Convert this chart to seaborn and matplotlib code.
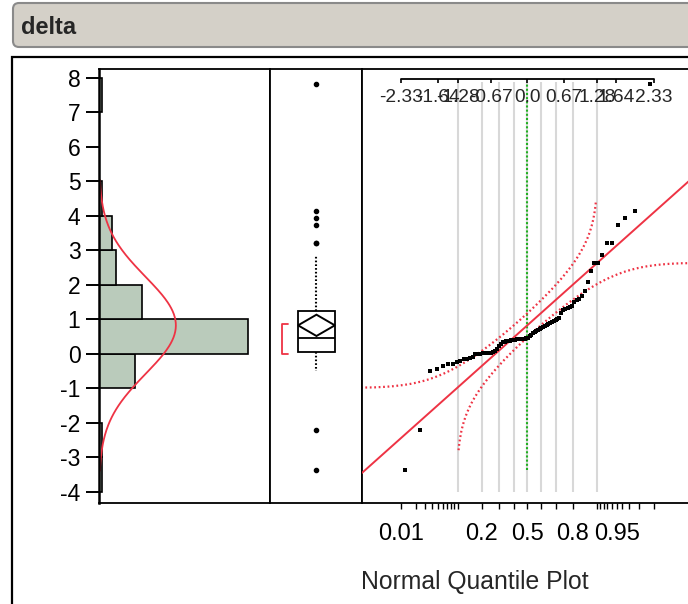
import numpy as np
import matplotlib
matplotlib.use("Agg")
import matplotlib.pyplot as plt
import seaborn as sns
from matplotlib.transforms import IdentityTransform
from matplotlib.patches import FancyBboxPatch, Rectangle, Polygon
from statistics import NormalDist

# ---------------- data ----------------
delta = [
    -3.37, -2.20,
    -0.48, -0.45, -0.36, -0.30, -0.29, -0.24, -0.20, -0.16, -0.14, -0.12, -0.08,
    0.00, 0.01, 0.01, 0.02, 0.02, 0.03, 0.03, 0.04, 0.05, 0.08, 0.14, 0.22,
    0.30, 0.34, 0.36, 0.37, 0.38, 0.39, 0.40, 0.40, 0.41, 0.42, 0.42, 0.43, 0.43,
    0.44, 0.44, 0.45, 0.46,
    0.52, 0.56, 0.60, 0.64, 0.67, 0.70, 0.72, 0.74, 0.77, 0.80, 0.83, 0.86,
    0.89, 0.92, 0.95, 0.98,
    1.00, 1.04, 1.18, 1.26, 1.30, 1.34, 1.36, 1.40, 1.50, 1.55, 1.60, 1.68, 1.82,
    2.10, 2.40, 2.64, 2.64, 2.88,
    3.22, 3.22, 3.75, 3.93,
    4.15, 7.83,
]
title_text = "delta"
hist_bin_edges = list(range(-4, 9))
y_tick_values = list(range(-4, 9))
top_quantile_labels = ["-2.33", "-1.64", "-1.28", "-0.67", "0.0", "0.67", "1.28", "1.64", "2.33"]
prob_ticks = [0.01, 0.02, 0.03, 0.04, 0.05, 0.06, 0.07, 0.08, 0.09, 0.10,
              0.2, 0.3, 0.4, 0.5, 0.6, 0.7, 0.8,
              0.90, 0.91, 0.92, 0.93, 0.94, 0.95, 0.96, 0.97, 0.98, 0.99]
prob_labels = ["0.01", "0.2", "0.5", "0.8", "0.95"]
grid_probs = [0.1, 0.2, 0.3, 0.4, 0.5, 0.6, 0.7, 0.8, 0.9]
qq_label = "Normal Quantile Plot"
t_crit = 1.99

# ---------------- style ----------------
sns.set_style("white")
plt.rcParams["font.family"] = ["Liberation Sans", "DejaVu Sans"]
RED = "#ee3344"
GREEN = "#22b022"
BAR = "#bacbbb"
W, H = 688, 604

vals = np.array(sorted(delta))
n = len(vals)
mean = vals.mean()
sd = vals.std(ddof=1)
nd = NormalDist()

fig = plt.figure(figsize=(W / 100, H / 100), dpi=100)


def ax_at(x0, x1, y0, y1):
    return fig.add_axes([x0 / W, 1 - y1 / H, (x1 - x0) / W, (y1 - y0) / H])


ax_h = ax_at(99, 270, 69, 503)
ax_b = ax_at(270, 362, 69, 503)
ax_q = ax_at(362, 730, 69, 503)
YLIM = (-4.32, 8.26)

for ax in (ax_h, ax_b, ax_q):
    ax.set_facecolor("white")
    for sp in ax.spines.values():
        sp.set_visible(True)
        sp.set_color("black")
        sp.set_linewidth(1.3)

# ---------------- histogram ----------------
sns.histplot(y=vals, bins=hist_bin_edges, ax=ax_h, color=BAR, edgecolor="black",
             linewidth=1.2, alpha=1)
yy = np.linspace(mean - 3 * sd, mean + 3 * sd, 300)
xx = n * 1.0 * np.exp(-0.5 * ((yy - mean) / sd) ** 2) / (sd * np.sqrt(2 * np.pi))
ax_h.plot(xx, yy, color=RED, lw=1.3)
ax_h.set_xlim(0, 51.8)
ax_h.set_ylim(*YLIM)
ax_h.set_xticks([])
ax_h.set_yticks(y_tick_values)
ax_h.set_yticklabels([str(v) for v in y_tick_values])
ax_h.tick_params(axis="y", direction="out", length=9.4, width=1.4, pad=4,
                 labelsize=16.5, left=True, colors="black")
ax_h.set_xlabel("")
ax_h.set_ylabel("")
ax_h.spines["left"].set_linewidth(1.8)

# ---------------- box plot ----------------
sns.boxplot(y=vals, ax=ax_b, width=0.4, color="white", linecolor="black",
            linewidth=1.3, whis=1.5, showcaps=False,
            whiskerprops=dict(linestyle=(0, (0.8, 1.0)), linewidth=1.5),
            flierprops=dict(marker="o", markerfacecolor="black",
                            markeredgecolor="black", markersize=3.0),
            medianprops=dict(color="black", linewidth=1.3))
ax_b.set_xlim(-0.505, 0.495)
ax_b.set_ylim(*YLIM)
ax_b.set_xticks([])
ax_b.set_yticks([])
ax_b.set_xlabel("")
ax_b.set_ylabel("")
ci = t_crit * sd / np.sqrt(n)
ax_b.add_patch(Polygon([[0, mean + ci], [0.2, mean], [0, mean - ci], [-0.2, mean]],
                       closed=True, fill=False, edgecolor="black", lw=1.4, zorder=5))
k = n // 2
widths = vals[k - 1:] - vals[:n - k + 1]
i0 = int(np.argmin(widths))
lo, hi = vals[i0], vals[i0 + k - 1]
ax_b.plot([-0.31, -0.375, -0.375, -0.31], [hi, hi, lo, lo], color=RED, lw=1.3)

# ---------------- normal quantile plot ----------------
zs = np.array([nd.inv_cdf(i / (n + 1)) for i in range(1, n + 1)])
XL = (-3.044, 3.733)
ax_q.set_xlim(*XL)
ax_q.set_ylim(*YLIM)
xt = ax_q.get_xaxis_transform()
ax_q.vlines([nd.inv_cdf(p) for p in grid_probs], 0.026, 0.971, transform=xt,
            colors="#d8d8d8", lw=1.5, zorder=0)
ax_q.vlines(0, vals.min(), vals.max(), colors=GREEN, linestyles=(0, (1, 1)), lw=1.5, zorder=1)

d = 0.886 / np.sqrt(n)
pu = np.linspace(1e-4, 1 - d - 0.005, 400)
ax_q.plot([nd.inv_cdf(p) for p in pu], [mean + sd * nd.inv_cdf(p + d) for p in pu],
          color=RED, lw=1.6, linestyle=(0, (0.8, 1.2)), zorder=2)
pl = np.linspace(d + 0.005, 1 - 1e-4, 400)
ax_q.plot([nd.inv_cdf(p) for p in pl], [mean + sd * nd.inv_cdf(p - d) for p in pl],
          color=RED, lw=1.6, linestyle=(0, (0.8, 1.2)), zorder=2)
sns.lineplot(x=list(XL), y=[mean + sd * XL[0], mean + sd * XL[1]], ax=ax_q,
             color=RED, lw=1.4, zorder=3)
sns.scatterplot(x=zs, y=vals, ax=ax_q, color="black", marker="s", s=11,
                linewidth=0, zorder=6)
ax_q.set_xlim(*XL)
ax_q.set_ylim(*YLIM)
ax_q.set_xlabel("")
ax_q.set_ylabel("")
ax_q.set_yticks([])
ax_q.set_xticks([nd.inv_cdf(p) for p in prob_ticks])
ax_q.set_xticklabels([(f"{p:g}" if f"{p:g}" in prob_labels else "") for p in prob_ticks])
ax_q.tick_params(axis="x", direction="out", length=4.5, width=1.0, pad=10,
                 labelsize=17, bottom=True, colors="black")
ax_q.spines["right"].set_visible(False)

# top quantile axis
top_vals = [float(s) for s in top_quantile_labels]
ax_q.plot([top_vals[0], top_vals[-1]], [0.976, 0.976], transform=xt, color="black",
          lw=1.3, clip_on=False)
ax_q.vlines(top_vals, 0.968, 0.976, transform=xt, colors="black", lw=1.2)
for v, s in zip(top_vals, top_quantile_labels):
    ax_q.text(v, 0.934, s, transform=xt, ha="center", va="center", fontsize=13.8)

fig.text(475 / W, 1 - 582 / H, qq_label, ha="center", va="center", fontsize=17.8)

# ---------------- title bar & frame ----------------
fig.add_artist(FancyBboxPatch((13, H - 47), 690, 44,
                              boxstyle="round,pad=0,rounding_size=6",
                              transform=IdentityTransform(), facecolor="#d4d0c8",
                              edgecolor="#8a8a8a", lw=1.5, clip_on=False))
fig.text(21 / W, 1 - 27 / H, title_text, ha="left", va="center", fontsize=17,
         fontweight="bold")
fig.add_artist(Rectangle((12, -20), 700, H - 57 + 20, transform=IdentityTransform(),
                         fill=False, edgecolor="black", lw=1.6, clip_on=False))

fig.savefig("out.png", dpi=100)
